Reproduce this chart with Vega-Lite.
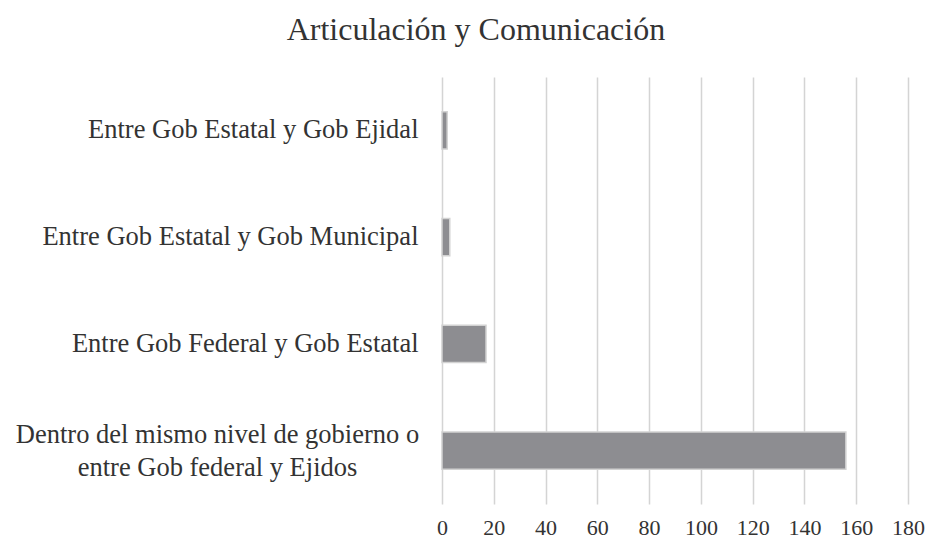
{
  "$schema": "https://vega.github.io/schema/vega-lite/v6.json",
  "width": 466,
  "height": 427,
  "autosize": "none",
  "padding": {"left": 442, "top": 77, "right": 21, "bottom": 40},
  "background": "white",
  "title": {
    "text": "Articulación y Comunicación",
    "font": "Liberation Serif",
    "fontSize": 32,
    "fontWeight": "normal",
    "color": "#333333",
    "anchor": "middle",
    "frame": "bounds",
    "dx": 6,
    "offset": 30
  },
  "config": {"view": {"stroke": null}},
  "data": {
    "values": [
      {"categoria": "Entre Gob Estatal y Gob Ejidal", "valor": 2},
      {"categoria": "Entre Gob Estatal y Gob Municipal", "valor": 3},
      {"categoria": "Entre Gob Federal y Gob Estatal", "valor": 17},
      {"categoria": "Dentro del mismo nivel de gobierno o entre Gob federal y Ejidos", "valor": 156}
    ]
  },
  "mark": {"type": "bar", "color": "#8d8d91", "stroke": "#d2d2d2", "strokeWidth": 1.5},
  "encoding": {
    "y": {
      "field": "categoria",
      "type": "nominal",
      "sort": ["Entre Gob Estatal y Gob Ejidal", "Entre Gob Estatal y Gob Municipal", "Entre Gob Federal y Gob Estatal", "Dentro del mismo nivel de gobierno o entre Gob federal y Ejidos"],
      "scale": {"paddingInner": 0.65, "paddingOuter": 0.325},
      "axis": {
        "title": null,
        "domain": false,
        "ticks": false,
        "labelFont": "Liberation Serif",
        "labelFontSize": 26.5,
        "labelColor": "#333333",
        "labelLimit": 600,
        "labelLineHeight": 33,
        "labelPadding": {"condition": {"test": "indexof(datum.label, 'Dentro') == 0", "value": 225}, "value": 24},
        "labelAlign": {"condition": {"test": "indexof(datum.label, 'Dentro') == 0", "value": "center"}, "value": "right"},
        "labelOffset": {"condition": {"test": "indexof(datum.label, 'Dentro') == 0", "value": -16}, "value": 0},
        "labelExpr": "datum.label == 'Dentro del mismo nivel de gobierno o entre Gob federal y Ejidos' ? ['Dentro del mismo nivel de gobierno o', 'entre Gob federal y Ejidos'] : datum.label"
      }
    },
    "x": {
      "field": "valor",
      "type": "quantitative",
      "scale": {"domain": [0, 180]},
      "axis": {
        "title": null,
        "values": [0, 20, 40, 60, 80, 100, 120, 140, 160, 180],
        "domain": false,
        "ticks": false,
        "grid": true,
        "gridColor": "#d4d4d4",
        "gridWidth": 1.5,
        "labelFlush": false,
        "labelFont": "Liberation Serif",
        "labelFontSize": 22,
        "labelColor": "#333333",
        "labelPadding": 13
      }
    }
  }
}
